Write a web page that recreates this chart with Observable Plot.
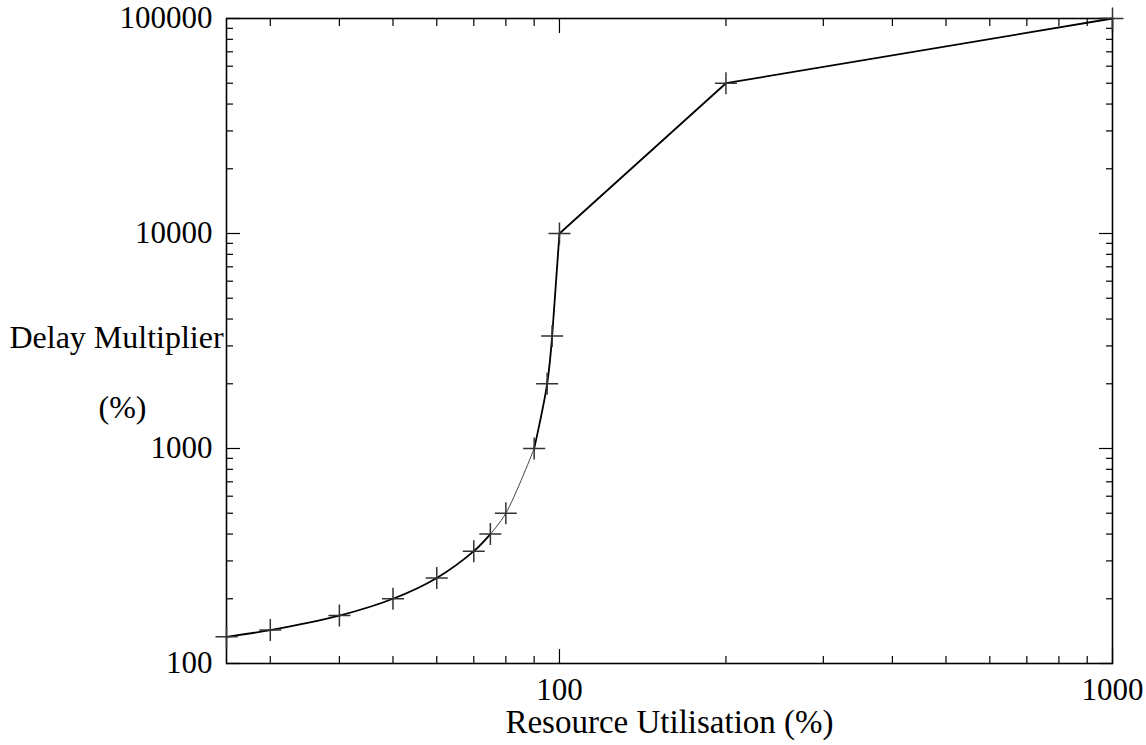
<!DOCTYPE html>
<html><head><meta charset="utf-8">
<script src="https://cdn.jsdelivr.net/npm/d3@7"></script>
<script src="https://cdn.jsdelivr.net/npm/@observablehq/plot@0.6"></script>
<style>html,body{margin:0;padding:0;background:#fff;overflow:hidden} #chart svg{display:block}</style>
</head><body><div id="chart"></div>
<script>
// Data
const utilisation = [25, 30, 40, 50, 60, 70, 75, 80, 90, 95, 97, 100, 200, 1000];
const delayMultiplier = [133, 143, 167, 200, 250, 333, 400, 500, 1000, 2000, 3333, 10000, 50000, 100000];

// Tick values / labels
const xMajorTicks = [100, 1000];
const xMinorTicks = [30, 40, 50, 60, 70, 80, 90, 200, 300, 400, 500, 600, 700, 800, 900];
const yMajorTicks = [100, 1000, 10000, 100000];
const yMinorTicks = [200, 300, 400, 500, 600, 700, 800, 900,
  2000, 3000, 4000, 5000, 6000, 7000, 8000, 9000,
  20000, 30000, 40000, 50000, 60000, 70000, 80000, 90000];
const xLabel = "Resource Utilisation (%)";
const yLabelLine1 = "Delay Multiplier";
const yLabelLine2 = "(%)";

const points = utilisation.map((u, i) => ({u, d: delayMultiplier[i]}));
const seg = (a, b, w, c, curve) =>
  Plot.line(points.slice(a, b + 1), {x: "u", y: "d", stroke: c, strokeWidth: w, curve});

const plusSymbol = {
  draw(context, size) {
    const s = Math.sqrt(size / Math.PI);
    context.moveTo(-s, 0); context.lineTo(s, 0);
    context.moveTo(0, -s); context.lineTo(0, s);
  }
};

const font = "'Liberation Serif', 'Times New Roman', serif";
const fs = 31;
const blank = () => "";

const chart = Plot.plot({
  width: 1146,
  height: 745,
  marginLeft: 226,
  marginRight: 34,
  marginTop: 18,
  marginBottom: 82,
  style: {fontFamily: font, background: "white", color: "black"},
  x: {type: "log", domain: [25, 1000]},
  y: {type: "log", domain: [100, 100000]},
  marks: [
    // inward ticks on all four sides
    Plot.axisX(xMajorTicks, {anchor: "bottom", tickSize: -14, tickFormat: blank, label: null, strokeWidth: 1.2}),
    Plot.axisX(xMinorTicks, {anchor: "bottom", tickSize: -7, tickFormat: blank, label: null, strokeWidth: 1.2}),
    Plot.axisX(xMajorTicks, {anchor: "top", tickSize: -14, tickFormat: blank, label: null, strokeWidth: 1.2}),
    Plot.axisX(xMinorTicks, {anchor: "top", tickSize: -7, tickFormat: blank, label: null, strokeWidth: 1.2}),
    Plot.axisY(yMajorTicks, {anchor: "left", tickSize: -14, tickFormat: blank, label: null, strokeWidth: 1.2}),
    Plot.axisY(yMinorTicks, {anchor: "left", tickSize: -7, tickFormat: blank, label: null, strokeWidth: 1.2}),
    Plot.axisY(yMajorTicks, {anchor: "right", tickSize: -14, tickFormat: blank, label: null, strokeWidth: 1.2}),
    Plot.axisY(yMinorTicks, {anchor: "right", tickSize: -7, tickFormat: blank, label: null, strokeWidth: 1.2}),
    // tick labels
    Plot.axisX(xMajorTicks, {anchor: "bottom", tickSize: 0, tickPadding: 14, tickFormat: d => String(d), label: null, fontSize: fs}),
    Plot.axisY(yMajorTicks, {anchor: "left", tickSize: 0, tickPadding: 14, tickFormat: d => String(d), label: null, fontSize: fs}),
    Plot.frame({stroke: "black", strokeWidth: 1.6}),
    // curve
    seg(0, 6, 1.8, "black", "catmull-rom"),
    seg(6, 8, 1, "#444", "catmull-rom"),
    seg(8, 10, 1.8, "black", "catmull-rom"),
    seg(10, 13, 1.8, "black", "linear"),
    Plot.dot(points, {x: "u", y: "d", symbol: plusSymbol, r: 11, fill: "none", stroke: "#333", strokeWidth: 1.5}),
    // axis titles
    Plot.text([xLabel], {text: d => d, frameAnchor: "bottom", dy: 59, fontSize: 33, lineAnchor: "middle"}),
    Plot.text([yLabelLine1], {text: d => d, frameAnchor: "left", dx: -110, dy: -3, fontSize: 32, textAnchor: "middle", lineAnchor: "middle"}),
    Plot.text([yLabelLine2], {text: d => d, frameAnchor: "left", dx: -104, dy: 67, fontSize: 32, textAnchor: "middle", lineAnchor: "middle"})
  ]
});
document.getElementById("chart").appendChild(chart);
</script>
</body></html>
